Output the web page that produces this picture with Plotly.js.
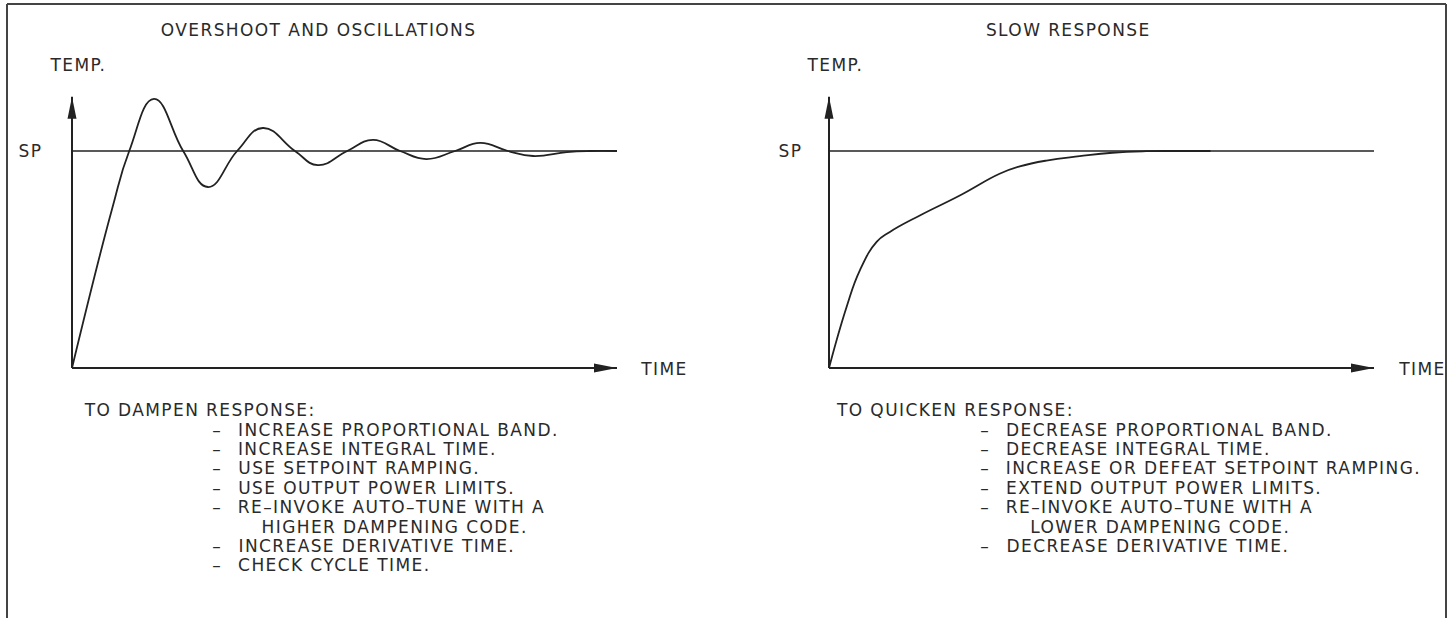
<!DOCTYPE html>
<html>
<head>
<meta charset="utf-8">
<script src="https://cdn.plot.ly/plotly-3.0.1.min.js"></script>
<style>
html,body{margin:0;padding:0;background:#fff;}
#chart{width:1449px;height:618px;}
.js-plotly-plot .annotation-text{letter-spacing:1.4px;}
</style>
</head>
<body>
<div id="chart"></div>
<script>
// ---------------- data ----------------
const setpoint = 100;          // SP level (temperature units)
const timeMax = 100;           // end of time axis
const tempMax = 125;           // top of temperature axis

// Overshoot and oscillations response
const oscTime = [0, 7.3, 10.5, 15.05, 20.4, 24.95, 30.3, 35.0, 40.9, 45.1, 50.5, 55.2, 60.2, 65.0, 70.3, 74.9, 80.0, 84.6, 90.8, 95.0, 100];
const oscTemp = [0, 72.8, 100, 124.0, 100, 83.4, 100, 110.6, 100, 93.5, 100, 105.1, 100, 96.3, 100, 103.7, 100, 97.7, 99.5, 100, 100];

// Slow response
const slowTime = [0, 3.24, 5.68, 8.74, 11.17, 16.67, 24.0, 31.3, 35.0, 39.9, 46.0, 52.0, 58.2, 64.3, 70];
const slowTemp = [0, 28.2, 45.1, 58.1, 62.7, 70.3, 79.5, 89.5, 92.9, 95.6, 97.6, 99.2, 99.9, 100, 100];

const panelTitles = ["OVERSHOOT AND OSCILLATIONS", "SLOW RESPONSE"];
const yLabel = "TEMP.";
const spLabel = "SP";
const xLabel = "TIME";

const leftHeading = "TO DAMPEN RESPONSE:";
const leftLines = ["INCREASE PROPORTIONAL BAND.", "INCREASE INTEGRAL TIME.", "USE SETPOINT RAMPING.", "USE OUTPUT POWER LIMITS.", "RE–INVOKE AUTO–TUNE WITH A", "HIGHER DAMPENING CODE.", "INCREASE DERIVATIVE TIME.", "CHECK CYCLE TIME."];
const leftBullets = [true, true, true, true, true, false, true, true];

const rightHeading = "TO QUICKEN RESPONSE:";
const rightLines = ["DECREASE PROPORTIONAL BAND.", "DECREASE INTEGRAL TIME.", "INCREASE OR DEFEAT SETPOINT RAMPING.", "EXTEND OUTPUT POWER LIMITS.", "RE–INVOKE AUTO–TUNE WITH A", "LOWER DAMPENING CODE.", "DECREASE DERIVATIVE TIME."];
const rightBullets = [true, true, true, true, true, false, true];

// ---------------- layout helpers ----------------
const W = 1449, H = 618;
const PX_T = 5.45, PX_TEMP = 2.17;
const origins = [[72, 368], [829, 368]];
const xr = [-3, 105], yr = [-3, 130];
const INK = '#222';
const LS = 1.4; // css letter spacing applied to annotation text
const FONT = {family: 'DejaVu Sans, sans-serif', size: 17, color: '#2a2a2a'};

function xdom(ox) { return [(ox + xr[0] * PX_T) / W, (ox + xr[1] * PX_T) / W]; }
function ydom(oy) { return [1 - (oy - yr[0] * PX_TEMP) / H, 1 - (oy - yr[1] * PX_TEMP) / H]; }
function px(x) { return x / W; }
function py(y) { return 1 - y / H; }

function axisCfg(dom, rng, anchor) {
  return {domain: dom, range: rng, anchor: anchor, visible: false, fixedrange: true};
}

const data = [];
const curves = [[oscTime, oscTemp], [slowTime, slowTemp]];
const shapes = [];
const annotations = [];

function note(text, x, y, xanchor) {
  const a = xanchor || 'left';
  // text is centred in its measured box; letter spacing widens it symmetrically
  const shift = a === 'left' ? text.length * LS / 2 : 0;
  annotations.push({text: text, x: px(x + shift), y: py(y), xref: 'paper', yref: 'paper',
    xanchor: a, yanchor: 'middle', showarrow: false, font: FONT, borderpad: 0});
}

for (let p = 0; p < 2; p++) {
  const xa = p === 0 ? 'x' : 'x2';
  const ya = p === 0 ? 'y' : 'y2';
  data.push({x: [0, timeMax], y: [setpoint, setpoint], xaxis: xa, yaxis: ya, mode: 'lines',
    line: {color: INK, width: 1.6}, hoverinfo: 'skip', showlegend: false});
  data.push({x: curves[p][0], y: curves[p][1], xaxis: xa, yaxis: ya, mode: 'lines',
    line: {color: INK, width: 1.8, shape: 'spline', smoothing: 1.3}, hoverinfo: 'skip', showlegend: false});
  shapes.push({type: 'line', xref: xa, yref: ya, x0: 0, y0: 0, x1: timeMax, y1: 0, line: {color: INK, width: 2}});
  shapes.push({type: 'line', xref: xa, yref: ya, x0: 0, y0: 0, x1: 0, y1: tempMax, line: {color: INK, width: 2}});
  shapes.push({type: 'path', xref: xa, yref: ya, xsizemode: 'pixel', ysizemode: 'pixel',
    xanchor: timeMax, yanchor: 0, path: 'M0,0 L-23,4.5 L-23,-4.5 Z', fillcolor: INK, line: {width: 0}});
  shapes.push({type: 'path', xref: xa, yref: ya, xsizemode: 'pixel', ysizemode: 'pixel',
    xanchor: 0, yanchor: tempMax, path: 'M0,0 L-4.5,-22 L4.5,-22 Z', fillcolor: INK, line: {width: 0}});
}

// frame
shapes.push({type: 'line', xref: 'paper', yref: 'paper', x0: px(7), y0: py(4), x1: px(7), y1: 0, line: {color: '#444', width: 2}});
shapes.push({type: 'line', xref: 'paper', yref: 'paper', x0: px(7), y0: py(4), x1: px(1446), y1: py(4), line: {color: '#444', width: 2}});
shapes.push({type: 'line', xref: 'paper', yref: 'paper', x0: px(1446), y0: py(4), x1: px(1446), y1: 0, line: {color: '#444', width: 2}});

// titles and labels
note(panelTitles[0], 160, 30, 'left');
note(panelTitles[1], 1068, 30, 'center');
note(yLabel, 48, 65);
note(yLabel, 805, 65);
note(spLabel, 18, 151);
note(spLabel, 778, 151);
note(xLabel, 639, 369);
note(xLabel, 1397, 369);

// recommendation lists
const lists = [
  {heading: leftHeading, lines: leftLines, bullets: leftBullets, hx: 83, dx: 211, tx: 237},
  {heading: rightHeading, lines: rightLines, bullets: rightBullets, hx: 835, dx: 979, tx: 1005}
];
lists.forEach(function (L) {
  note(L.heading, L.hx, 410);
  L.lines.forEach(function (t, i) {
    const y = 429.5 + i * 19.4;
    if (L.bullets[i]) {
      note('–', L.dx, y);
      note(t, L.tx, y);
    } else {
      note(t, L.tx + 24, y);
    }
  });
});

const layout = {
  width: W, height: H,
  margin: {l: 0, r: 0, t: 0, b: 0},
  paper_bgcolor: '#fff', plot_bgcolor: 'rgba(0,0,0,0)',
  showlegend: false,
  xaxis: axisCfg(xdom(origins[0][0]), xr, 'y'),
  yaxis: axisCfg(ydom(origins[0][1]), yr, 'x'),
  xaxis2: axisCfg(xdom(origins[1][0]), xr, 'y2'),
  yaxis2: axisCfg(ydom(origins[1][1]), yr, 'x2'),
  shapes: shapes,
  annotations: annotations
};

Plotly.newPlot('chart', data, layout, {staticPlot: true, displayModeBar: false});
</script>
</body>
</html>
